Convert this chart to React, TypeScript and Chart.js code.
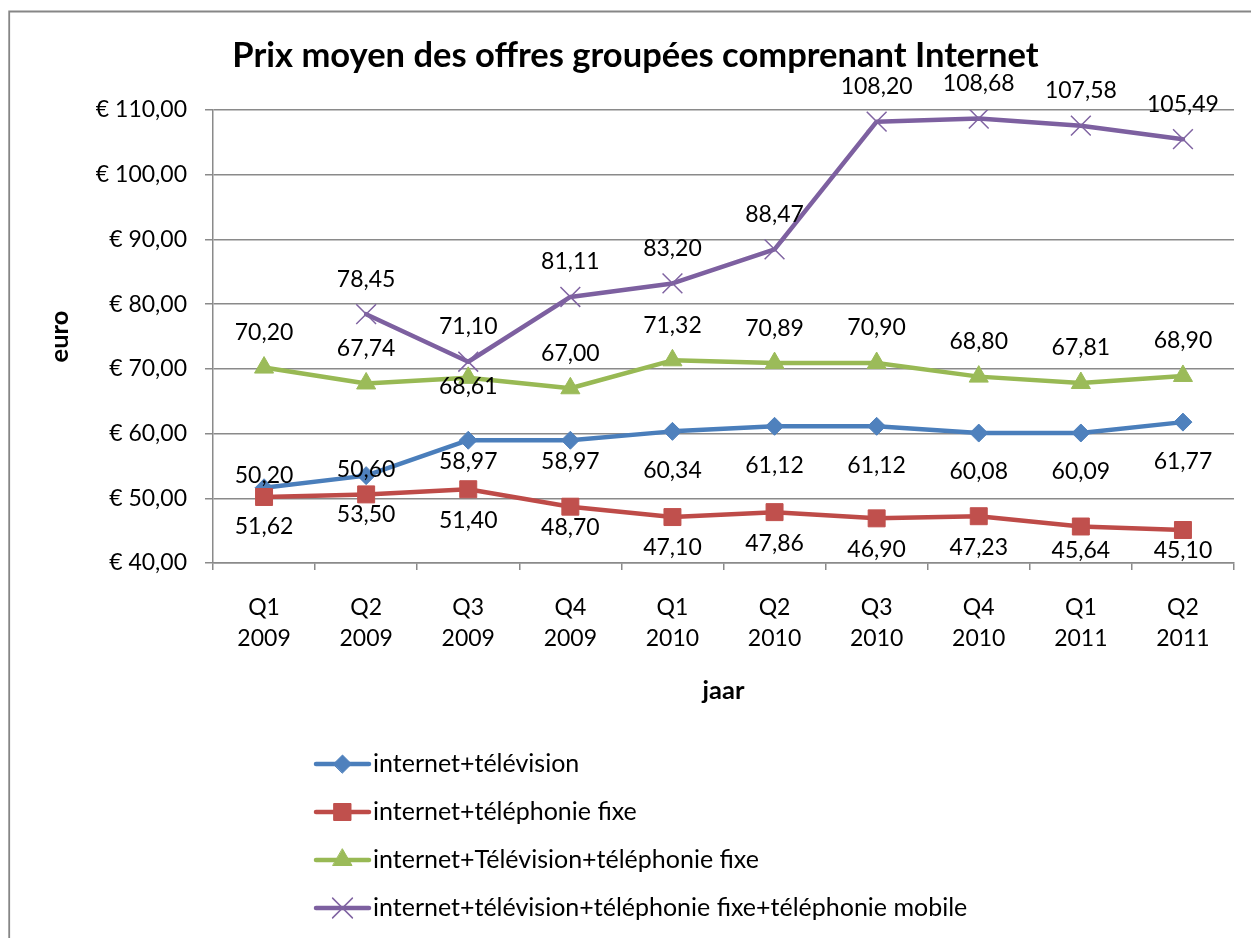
import React, { useEffect, useRef } from 'react';
import { Chart, registerables } from 'chart.js';
import { drawPoint } from 'chart.js/helpers';

Chart.register(...registerables);

// ---- data ----
const categories: string[][] = [
  ['Q1', '2009'], ['Q2', '2009'], ['Q3', '2009'], ['Q4', '2009'],
  ['Q1', '2010'], ['Q2', '2010'], ['Q3', '2010'], ['Q4', '2010'],
  ['Q1', '2011'], ['Q2', '2011'],
];
const seriesNames = [
  'internet+télévision',
  'internet+téléphonie fixe',
  'internet+Télévision+téléphonie fixe',
  'internet+télévision+téléphonie fixe+téléphonie mobile',
];
const internetTelevision = [51.62, 53.5, 58.97, 58.97, 60.34, 61.12, 61.12, 60.08, 60.09, 61.77];
const internetTelephonieFixe = [50.2, 50.6, 51.4, 48.7, 47.1, 47.86, 46.9, 47.23, 45.64, 45.1];
const internetTvTelFixe = [70.2, 67.74, 68.61, 67.0, 71.32, 70.89, 70.9, 68.8, 67.81, 68.9];
const internetTvTelFixeMobile = [null, 78.45, 71.1, 81.11, 83.2, 88.47, 108.2, 108.68, 107.58, 105.49];
const yMin = 40;
const yMax = 110;
const yStep = 10;

const chartTitle = 'Prix moyen des offres groupées comprenant Internet';
const xTitle = 'jaar';
const yTitle = 'euro';

// ---- styles ----
const FONT = 'Lato';
const NUM_SIZE = 23;
const LEGEND_SIZE = 25;
const AXIS_TITLE_SIZE = 25.5;
const TITLE_SIZE = 34.5;
const lineColors = ['#4A7EBB', '#BE4B48', '#98B954', '#7D60A0'];
const markerColors = ['#4F81BD', '#C0504D', '#9BBB59', '#8064A2'];
const markerStyles = ['rectRot', 'rect', 'triangle', 'crossRot'];
const markerRadii = [9, 12, 11, 14];
const gridColor = '#8a8a8a';

const fmt = (v: number) => v.toFixed(2).replace('.', ',');

// label offsets (px, relative to point) per series, with a few nudges as in the original
const labelOffsets = [39, 31, -35, -35];
const labelNudges: Record<string, number> = {
  '0-2': 21, '0-3': 21, '1-0': -21, '1-1': -25, '1-3': 21, '2-2': 9,
};

const framePlugin = {
  id: 'frame',
  beforeDraw(chart: any) {
    const { ctx, width, height } = chart;
    ctx.save();
    ctx.fillStyle = '#ffffff';
    ctx.fillRect(0, 0, width, height);
    ctx.strokeStyle = '#868686';
    ctx.lineWidth = 1.8;
    ctx.beginPath();
    ctx.moveTo(9.2, height);
    ctx.lineTo(9.2, 11.5);
    ctx.lineTo(width, 11.5);
    ctx.stroke();
    ctx.restore();
  },
};

const titlePlugin = {
  id: 'customTitle',
  afterDraw(chart: any) {
    const { ctx } = chart;
    ctx.save();
    ctx.font = `bold ${TITLE_SIZE}px ${FONT}`;
    ctx.fillStyle = '#000';
    ctx.textAlign = 'center';
    ctx.textBaseline = 'middle';
    ctx.fillText(chartTitle, 635.5, 56);
    ctx.restore();
  },
};

const dataLabelPlugin = {
  id: 'dataLabels',
  afterDatasetsDraw(chart: any) {
    const { ctx, chartArea } = chart;
    ctx.save();
    ctx.font = `${NUM_SIZE}px ${FONT}`;
    ctx.fillStyle = '#000';
    ctx.textAlign = 'center';
    ctx.textBaseline = 'middle';
    chart.data.datasets.forEach((ds: any, di: number) => {
      const meta = chart.getDatasetMeta(di);
      meta.data.forEach((pt: any, i: number) => {
        const v = ds.data[i];
        if (v === null || v === undefined) return;
        const key = `${di}-${i}`;
        const off = key in labelNudges ? labelNudges[key] : labelOffsets[di];
        let y = pt.y + off;
        if (y > chartArea.bottom - 12) y = chartArea.bottom - 12;
        ctx.fillText(fmt(v), pt.x, y);
      });
    });
    ctx.restore();
  },
};

const legendPlugin = {
  id: 'customLegend',
  afterDraw(chart: any) {
    const { ctx } = chart;
    ctx.save();
    seriesNames.forEach((name, i) => {
      const y = 764 + i * 48;
      ctx.strokeStyle = lineColors[i];
      ctx.lineWidth = 4.5;
      ctx.lineCap = 'round';
      ctx.beginPath();
      ctx.moveTo(316, y);
      ctx.lineTo(369, y);
      ctx.stroke();
      ctx.fillStyle = markerColors[i];
      ctx.strokeStyle = markerColors[i];
      ctx.lineWidth = i === 3 ? 1.5 : 1;
      drawPoint(ctx, { pointStyle: markerStyles[i], radius: markerRadii[i], rotation: 0, borderWidth: ctx.lineWidth } as any, 342.5, y);
      ctx.fillStyle = '#000';
      ctx.font = `${LEGEND_SIZE}px ${FONT}`;
      ctx.textAlign = 'left';
      ctx.textBaseline = 'middle';
      ctx.fillText(name, 373, y);
    });
    ctx.restore();
  },
};

export default function App() {
  const ref = useRef<HTMLCanvasElement>(null);
  useEffect(() => {
    const canvas = ref.current;
    if (!canvas) return;
    const seriesData = [internetTelevision, internetTelephonieFixe, internetTvTelFixe, internetTvTelFixeMobile];
    const titleHalf = (AXIS_TITLE_SIZE * 1.2) / 2;
    const chart = new Chart(canvas, {
      type: 'line',
      data: {
        labels: categories,
        datasets: seriesData.map((d, i) => ({
          label: seriesNames[i],
          data: d,
          borderColor: lineColors[i],
          backgroundColor: markerColors[i],
          borderWidth: 4.5,
          borderJoinStyle: 'round',
          borderCapStyle: 'round',
          pointStyle: markerStyles[i],
          pointRadius: markerRadii[i],
          pointHoverRadius: markerRadii[i],
          pointBackgroundColor: markerColors[i],
          pointBorderColor: markerColors[i],
          pointBorderWidth: i === 3 ? 1.5 : 1,
          tension: 0,
          spanGaps: false,
          fill: false,
          order: 3 - i,
        })) as any,
      },
      options: {
        animation: false,
        responsive: false,
        devicePixelRatio: 1,
        events: [],
        layout: { padding: { left: 0, right: 17, top: 110, bottom: 225 } },
        plugins: {
          legend: { display: false },
          title: { display: false },
          tooltip: { enabled: false },
        },
        scales: {
          x: {
            offset: true,
            grid: { display: true, offset: true, drawOnChartArea: false, drawTicks: true, tickLength: 7, color: gridColor, lineWidth: 1.5 },
            border: { display: true, color: gridColor, width: 1.5 },
            ticks: {
              autoSkip: false, maxRotation: 0, minRotation: 0, padding: 22, color: '#000',
              font: { family: FONT, size: NUM_SIZE, lineHeight: 1.34 },
            },
            title: { display: true, text: xTitle, color: '#000', font: { family: FONT, size: AXIS_TITLE_SIZE, weight: 'bold', lineHeight: 1.2 }, padding: { top: 0, bottom: 713 - 691 - titleHalf } },
            afterFit: (scale: any) => { scale.height = 150; scale.paddingLeft = 0; scale.paddingRight = 0; },
          },
          y: {
            min: yMin,
            max: yMax,
            grid: { color: gridColor, lineWidth: 1.5, tickLength: 8, drawTicks: true },
            border: { display: true, color: gridColor, width: 1.5 },
            ticks: {
              stepSize: yStep, padding: 18, color: '#000',
              font: { family: FONT, size: NUM_SIZE },
              callback: (v: any) => '€ ' + fmt(Number(v)),
            },
            title: { display: true, text: yTitle, color: '#000', font: { family: FONT, size: AXIS_TITLE_SIZE, weight: 'bold', lineHeight: 1.2 }, padding: { top: 60 - titleHalf, bottom: 0 } },
            afterFit: (scale: any) => { scale.width = 213; scale.paddingTop = 0; scale.paddingBottom = 0; },
          },
        },
      } as any,
      plugins: [framePlugin, titlePlugin, dataLabelPlugin, legendPlugin],
    });
    return () => chart.destroy();
  }, []);
  return (
    <canvas
      ref={ref}
      width={1251}
      height={938}
      style={{ position: 'absolute', left: 0, top: 0, display: 'block' }}
    />
  );
}
